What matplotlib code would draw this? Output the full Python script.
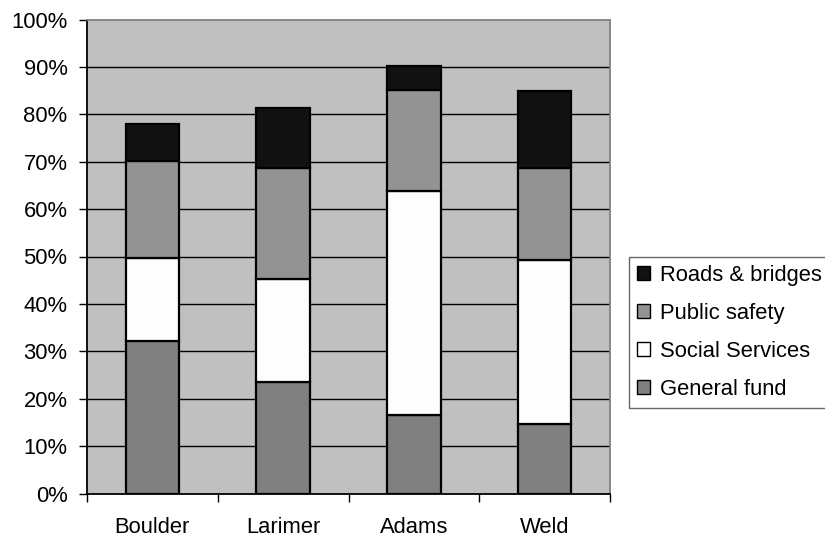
import matplotlib
matplotlib.use("Agg")
import matplotlib.pyplot as plt
import numpy as np

# County budget shares (percent of total), stacked bottom to top
counties = ["Boulder", "Larimer", "Adams", "Weld"]
general_fund = [32.2, 23.6, 16.5, 14.6]
social_services = [17.5, 21.6, 47.4, 34.7]
public_safety = [20.5, 23.5, 21.2, 19.3]
roads_bridges = [7.8, 12.6, 5.1, 16.4]
y_ticks = [0, 10, 20, 30, 40, 50, 60, 70, 80, 90, 100]

plt.rcParams["font.family"] = ["Liberation Sans", "DejaVu Sans"]
FS = 15.8

fig = plt.figure(figsize=(8.25, 5.38), dpi=100)
ax = fig.add_axes([87 / 825, 44.5 / 538, 523 / 825, 474 / 538])
ax.set_facecolor("#C0C0C0")

x = np.arange(len(counties))
width = 0.41
series = [
    ("General fund", general_fund, "#808080"),
    ("Social Services", social_services, "#FDFDFD"),
    ("Public safety", public_safety, "#939393"),
    ("Roads & bridges", roads_bridges, "#111111"),
]
bottom = np.zeros(len(counties))
handles = []
for name, vals, color in series:
    b = ax.bar(x, vals, width, bottom=bottom, color=color, edgecolor="black",
               linewidth=1.6, label=name, zorder=3)
    handles.append(b)
    bottom += np.array(vals)

ax.set_xlim(-0.5, len(counties) - 0.5)
ax.set_ylim(0, 100)
ax.set_yticks(y_ticks)
ax.set_yticklabels([f"{t}%" for t in y_ticks], fontsize=FS)
for t in y_ticks[1:-1]:
    ax.axhline(t, color="black", linewidth=1.0, zorder=1)

# category boundaries carry the ticks, labels sit at the centres
ax.set_xticks(np.arange(-0.5, len(counties), 1.0))
ax.set_xticklabels([])
ax.set_xticks(x, minor=True)
ax.set_xticklabels(counties, minor=True, fontsize=FS)
ax.tick_params(axis="x", which="major", direction="out", length=6, width=1, color="black")
ax.tick_params(axis="x", which="minor", length=0, pad=17)
ax.tick_params(axis="y", direction="out", length=6, width=1, color="black", pad=8)

ax.spines["left"].set_color("black")
ax.spines["bottom"].set_color("black")
ax.spines["top"].set_color("#808080")
ax.spines["right"].set_color("#808080")
for s in ax.spines.values():
    s.set_linewidth(1.3)

leg = fig.legend(handles[::-1], [h.get_label() for h in handles[::-1]],
                 loc="upper left", bbox_to_anchor=(629 / 825, 1 - 257 / 538),
                 fontsize=FS, frameon=True, fancybox=False, edgecolor="#404040",
                 handlelength=0.6, handleheight=0.6, handletextpad=0.45,
                 labelspacing=0.78, borderpad=0.35, borderaxespad=0)
leg.get_frame().set_linewidth(1.0)
for p in leg.get_patches():
    p.set_linewidth(1.0)

fig.savefig("out.png", dpi=100)
